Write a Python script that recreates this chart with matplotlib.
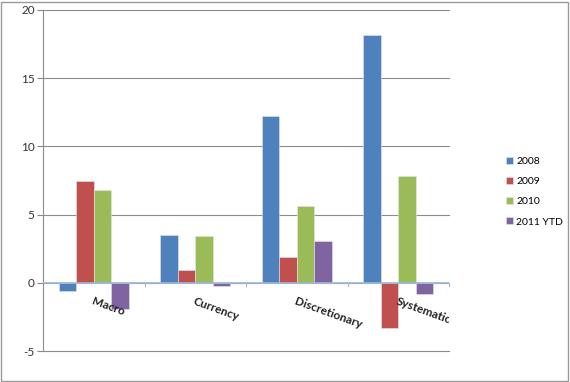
import matplotlib.pyplot as plt
import numpy as np
from matplotlib.patches import Rectangle

# данные с графика
categories = ['Macro', 'Currency', 'Discretionary', 'Systematic']
series = ['2008', '2009', '2010', '2011 YTD']
v2008 = [-0.6, 3.5, 12.2, 18.2]
v2009 = [7.5, 0.95, 1.9, -3.3]
v2010 = [6.8, 3.45, 5.65, 7.85]
v2011 = [-1.9, -0.25, 3.1, -0.8]
values = [v2008, v2009, v2010, v2011]
colors = ['#4F81BD', '#C0504D', '#9BBB59', '#8064A2']

plt.rcParams['font.family'] = ['Lato', 'DejaVu Sans']

fig = plt.figure(figsize=(5.7, 3.82), dpi=100)
ax = fig.add_axes([43/570, 31/382, 406/570, 341/382])

x = np.arange(len(categories))
w = 0.172
for i, (vals, c, name) in enumerate(zip(values, colors, series)):
    ax.bar(x + (i - 1.5) * w, vals, w, color=c, label=name,
           edgecolor='#dfe6ee', linewidth=0.4, zorder=3)

ax.set_xlim(-0.5, 3.5)
ax.set_ylim(-5, 20)
ax.set_yticks([-5, 0, 5, 10, 15, 20])
ax.set_yticklabels(['-5', '0', '5', '10', '15', '20'], fontsize=8.5, color='#333333')
ax.tick_params(axis='y', length=4, color='#888888', pad=2)
ax.grid(axis='y', color='#8c8c8c', linewidth=0.8, zorder=0)
for gl in ax.get_ygridlines():
    gl.set_clip_on(False)

for s in ['top', 'right', 'bottom']:
    ax.spines[s].set_visible(False)
ax.spines['left'].set_color('#8c8c8c')

# ось X на нуле
ax.axhline(0, color='#9bb7d9', linewidth=1.2, zorder=4)
ax.set_xticks([])
for b in [0.5, 1.5, 2.5, 3.5]:
    ax.plot([b, b], [0, -0.25], color='#9bb7d9', linewidth=0.8, zorder=4, clip_on=False)

# подписи категорий
for xi, name in zip(x, categories):
    ax.text(xi, -0.95, name, rotation=-20, rotation_mode='anchor',
            ha='left', va='top', fontsize=8.5, fontweight='bold',
            color='#222222', clip_on=True, zorder=5)

fig.legend(loc='upper left', bbox_to_anchor=(502/570, 1 - 153/382),
           frameon=False, fontsize=7.5, handlelength=0.65, handleheight=0.65,
           handletextpad=0.3, labelspacing=1.05, borderaxespad=0)

fig.patches.append(Rectangle((1/570, 1/382), 567/570, 379/382, transform=fig.transFigure,
                             fill=False, edgecolor='#9a9a9a', linewidth=1))

plt.savefig('out.png', dpi=100)
